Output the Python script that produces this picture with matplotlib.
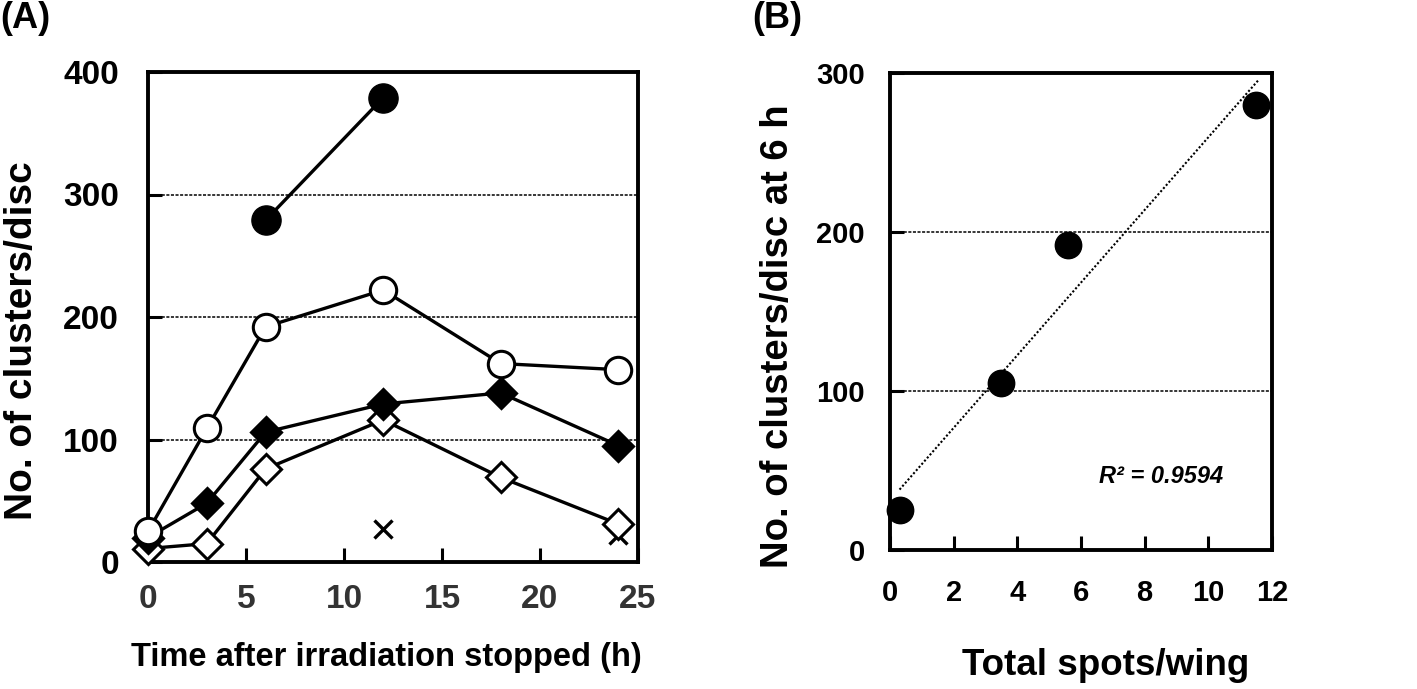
import numpy as np
import matplotlib
matplotlib.use("Agg")
import matplotlib.pyplot as plt

plt.rcParams['font.family'] = ['Liberation Sans', 'DejaVu Sans']
plt.rcParams['font.weight'] = 'bold'

# Panel A data
time_h = [0, 3, 6, 12, 18, 24]
filled_circle_t = [6, 12]
filled_circle = [279, 379]
open_circle = [25, 109, 192, 222, 162, 157]
filled_diamond = [20, 48, 106, 129, 138, 95]
open_diamond = [11, 15, 76, 116, 69, 31]
cross_t = [12, 24]
cross = [27, 22]

# Panel B data
spots_per_wing = [0.3, 3.5, 5.6, 11.5]
clusters_6h = [25, 105, 192, 280]
r2_text = "R² = 0.9594"

W, H = 1417, 689
fig = plt.figure(figsize=(W / 100, H / 100), dpi=100)

def ax_rect(l, t, r, b):
    return [l / W, 1 - b / H, (r - l) / W, (b - t) / H]

axA = fig.add_axes(ax_rect(148, 72, 638, 562))
axB = fig.add_axes(ax_rect(890, 73, 1272, 550))

lw = 2.4
for ax in (axA, axB):
    for s in ax.spines.values():
        s.set_linewidth(2.8)
    ax.tick_params(direction='in', length=10, width=2.2)

# Panel A
axA.set_xlim(0, 25)
axA.set_ylim(0, 400)
axA.set_xticks([0, 5, 10, 15, 20, 25])
axA.set_yticks([0, 100, 200, 300, 400])
for yv in [100, 200, 300]:
    axA.axhline(yv, color='black', lw=1.1, ls=(0, (2, 1)), zorder=1)
axA.tick_params(axis='x', pad=16, labelsize=24, labelcolor='#333333')
axA.tick_params(axis='y', pad=21, labelsize=24)
for lab in axA.get_xticklabels() + axA.get_yticklabels():
    lab.set_fontweight('bold')

kw = dict(color='black', lw=lw, clip_on=False, zorder=3)
axA.plot(time_h, open_diamond, marker='D', ms=15, mfc='white', mec='black', mew=2.2, **kw)
axA.plot(time_h, filled_diamond, marker='D', ms=15, mfc='black', mec='black', mew=2.2, **kw)
axA.plot(time_h, open_circle, marker='o', ms=19, mfc='white', mec='black', mew=2.2, **kw)
axA.plot(filled_circle_t, filled_circle, marker='o', ms=21, mfc='black', mec='black', **kw)
axA.plot(cross_t, cross, ls='none', marker='x', ms=13, mew=2.4, color='black', clip_on=False, zorder=2)

axA.set_ylabel('No. of clusters/disc', fontsize=28, fontweight='bold', va='center', ha='center')
axA.yaxis.set_label_coords(-0.257, 0.451)
axA.set_xlabel('Time after irradiation stopped (h)', fontsize=23.5, fontweight='bold', va='center', ha='center')
axA.xaxis.set_label_coords(0.486, -0.195)

# Panel B
axB.set_xlim(0, 12)
axB.set_ylim(0, 300)
axB.set_xticks([0, 2, 4, 6, 8, 10, 12])
axB.set_yticks([0, 100, 200, 300])
for yv in [100, 200]:
    axB.axhline(yv, color='black', lw=1.1, ls=(0, (2, 1)), zorder=1)
axB.tick_params(axis='x', pad=21, labelsize=21)
axB.tick_params(axis='y', pad=18, labelsize=21)
for lab in axB.get_xticklabels() + axB.get_yticklabels():
    lab.set_fontweight('bold')

xs = np.array(spots_per_wing)
ys = np.array(clusters_6h)
coef = np.polyfit(xs, ys, 1)
xl = np.array([xs.min(), xs.max() + 0.1])
axB.plot(xl, np.polyval(coef, xl), color='black', lw=1.5, ls=(0, (1, 1)), zorder=2)
axB.plot(xs, ys, ls='none', marker='o', ms=19, mfc='black', mec='black', clip_on=False, zorder=3)
axB.text(8.51, 46, r2_text, fontsize=17, fontweight='bold', style='italic', ha='center', va='center')

axB.set_ylabel('No. of clusters/disc at 6 h', fontsize=27.5, fontweight='bold', va='center', ha='center')
axB.yaxis.set_label_coords(-0.293, 0.449)
axB.set_xlabel('Total spots/wing', fontsize=26.5, fontweight='bold', va='center', ha='center')
axB.xaxis.set_label_coords(0.565, -0.243)

fig.text(0 / W, 1 - 19 / H, '(A)', fontsize=26, fontweight='bold', ha='left', va='center')
fig.text(752 / W, 1 - 19 / H, '(B)', fontsize=26, fontweight='bold', ha='left', va='center')

fig.savefig('out.png', dpi=100)
